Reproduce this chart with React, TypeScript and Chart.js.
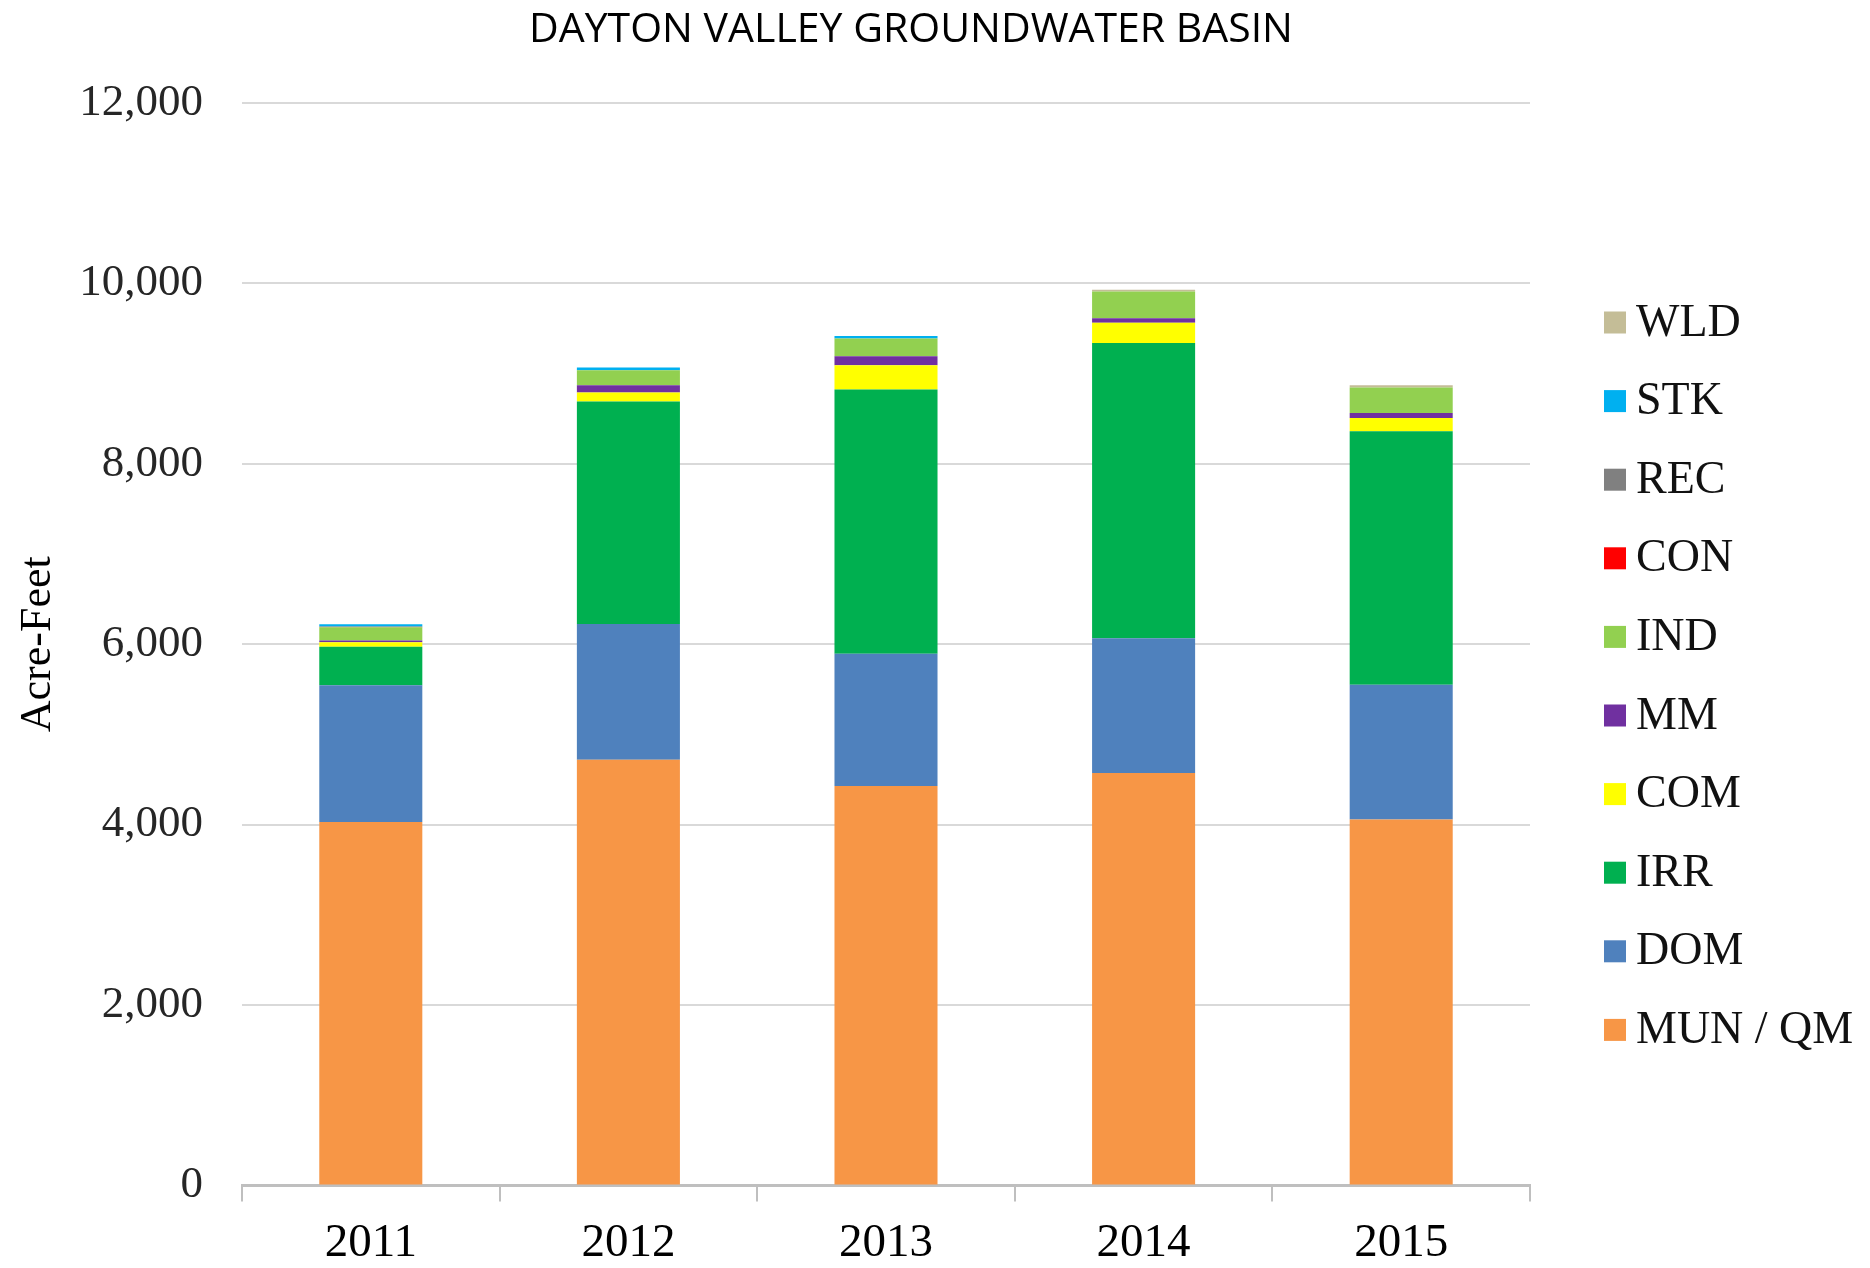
import React, { useEffect, useRef } from "react";
import { Chart, registerables } from "chart.js";

Chart.register(...registerables);

const chartTitle = "DAYTON VALLEY GROUNDWATER BASIN";
const yAxisTitle = "Acre-Feet";
const categories = ["2011", "2012", "2013", "2014", "2015"];

const munQm = [4030, 4720, 4428, 4573, 4058];
const dom = [1516, 1505, 1467, 1494, 1494];
const irr = [425, 2465, 2928, 3273, 2809];
const com = [50, 100, 270, 225, 148];
const mm = [20, 81, 100, 50, 55];
const ind = [147, 166, 196, 295, 281];
const con = [3, 0, 0, 0, 0];
const rec = [5, 0, 0, 0, 0];
const stk = [26, 30, 29, 0, 0];
const wld = [0, 0, 0, 20, 25];

const seriesLabels = ["MUN / QM", "DOM", "IRR", "COM", "MM", "IND", "CON", "REC", "STK", "WLD"];
const seriesValues = [munQm, dom, irr, com, mm, ind, con, rec, stk, wld];
const seriesColors = ["#F79646", "#4F81BD", "#00B050", "#FFFF00", "#7030A0", "#92D050", "#FF0000", "#808080", "#00B0F0", "#C4BD97"];

const yMin = 0;
const yMax = 12000;
const yStep = 2000;

const titlePlugin = {
  id: "centerTitle",
  afterDraw(chart: any) {
    const ctx = chart.ctx;
    ctx.save();
    ctx.font = "41px 'Open Sans'";
    ctx.fillStyle = "#000000";
    ctx.textAlign = "center";
    ctx.textBaseline = "middle";
    ctx.fillText(chartTitle, 911, 30);
    ctx.restore();
  },
};

const legendPlugin = {
  id: "sideLegend",
  afterDraw(chart: any) {
    const ctx = chart.ctx;
    const ca = chart.chartArea;
    const ds = chart.data.datasets.slice().reverse();
    const x0 = ca.right + 74;
    const y0 = ca.top + 219.5;
    const step = 78.6;
    ctx.save();
    ds.forEach((d: any, i: number) => {
      const y = y0 + i * step;
      ctx.fillStyle = d.backgroundColor;
      ctx.fillRect(x0, y - 11, 22, 22);
      ctx.fillStyle = "#111111";
      ctx.font = "46px 'Liberation Serif'";
      ctx.textAlign = "left";
      ctx.textBaseline = "middle";
      ctx.fillText(d.label, x0 + 32, y + 1);
    });
    ctx.restore();
  },
};

export default function App() {
  const ref = useRef<HTMLCanvasElement | null>(null);

  useEffect(() => {
    if (!ref.current) return;
    const chart = new Chart(ref.current, {
      type: "bar",
      data: {
        labels: categories,
        datasets: seriesLabels.map((label, i) => ({
          label,
          data: seriesValues[i],
          backgroundColor: seriesColors[i],
          borderWidth: 0,
          barPercentage: 0.4,
          categoryPercentage: 1,
        })),
      },
      options: {
        responsive: false,
        animation: false,
        layout: { padding: { top: 103, left: 0, right: 340, bottom: 0 } },
        plugins: {
          legend: { display: false },
          title: { display: false },
          tooltip: { enabled: false },
        },
        scales: {
          x: {
            stacked: true,
            afterFit: (axis: any) => {
              axis.height = 82.5;
            },
            grid: {
              offset: true,
              drawOnChartArea: false,
              drawTicks: true,
              tickLength: 16,
              color: "#bfbfbf",
              lineWidth: 2,
            },
            border: { display: true, color: "#bfbfbf", width: 3 },
            ticks: {
              font: { family: "'Liberation Serif'", size: 47 },
              color: "#000000",
              padding: 14,
            },
          },
          y: {
            stacked: true,
            min: yMin,
            max: yMax,
            afterFit: (axis: any) => {
              axis.width = 242;
            },
            grid: { color: "#d9d9d9", lineWidth: 2, drawTicks: false },
            border: { display: false },
            ticks: {
              stepSize: yStep,
              padding: 39,
              font: { family: "'Liberation Serif'", size: 45 },
              color: "#262626",
              callback: (v: any) => Number(v).toLocaleString("en-US"),
            },
            title: {
              display: true,
              text: yAxisTitle,
              font: { family: "'Liberation Serif'", size: 44 },
              color: "#000000",
              padding: { top: 12, bottom: 0 },
            },
          },
        },
      },
      plugins: [titlePlugin, legendPlugin],
    });
    return () => chart.destroy();
  }, []);

  return (
    <div style={{ position: "fixed", left: 0, top: 0, width: 1870, height: 1268, background: "#ffffff" }}>
      <canvas ref={ref} width={1870} height={1268} />
    </div>
  );
}
